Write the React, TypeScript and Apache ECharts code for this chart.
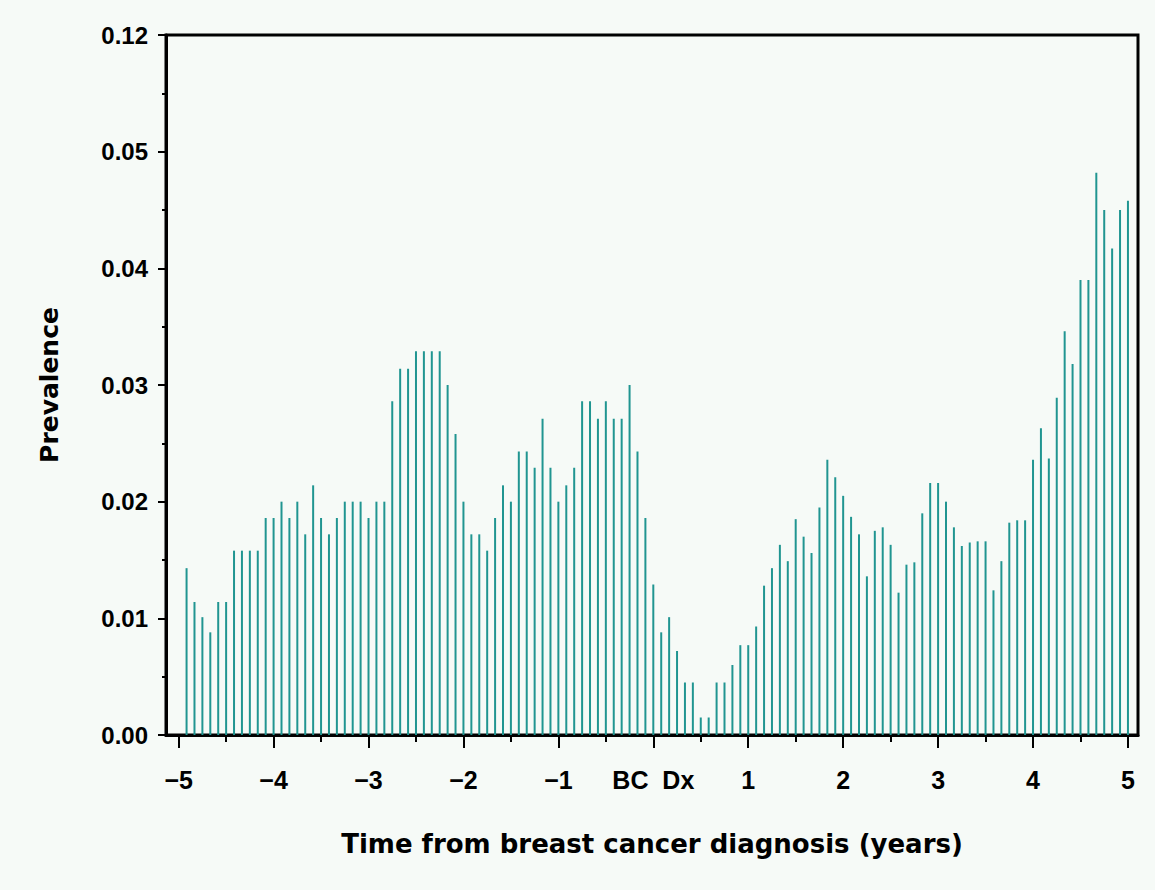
import React, { useEffect, useRef } from "react";
import * as echarts from "echarts";

// Monthly prevalence, months -59 .. 60 relative to breast cancer diagnosis
const prevalence: number[] = [
  // -59 .. -48
  0.0143, 0.0114, 0.0101, 0.0088, 0.0114, 0.0114, 0.0158, 0.0158, 0.0158, 0.0158, 0.0186, 0.0186,
  // -47 .. -36
  0.0200, 0.0186, 0.0200, 0.0172, 0.0214, 0.0186, 0.0172, 0.0186, 0.0200, 0.0200, 0.0200, 0.0186,
  // -35 .. -24
  0.0200, 0.0200, 0.0286, 0.0314, 0.0314, 0.0329, 0.0329, 0.0329, 0.0329, 0.0300, 0.0258, 0.0200,
  // -23 .. -12
  0.0172, 0.0172, 0.0158, 0.0186, 0.0214, 0.0200, 0.0243, 0.0243, 0.0229, 0.0271, 0.0229, 0.0200,
  // -11 .. 0
  0.0214, 0.0229, 0.0286, 0.0286, 0.0271, 0.0286, 0.0271, 0.0271, 0.0300, 0.0243, 0.0186, 0.0129,
  // 1 .. 12
  0.0088, 0.0101, 0.0072, 0.0045, 0.0045, 0.0015, 0.0015, 0.0045, 0.0045, 0.0060, 0.0077, 0.0077,
  // 13 .. 24
  0.0093, 0.0128, 0.0143, 0.0163, 0.0149, 0.0185, 0.0170, 0.0156, 0.0195, 0.0236, 0.0221, 0.0205,
  // 25 .. 36
  0.0187, 0.0172, 0.0136, 0.0175, 0.0178, 0.0163, 0.0122, 0.0146, 0.0148, 0.0190, 0.0216, 0.0216,
  // 37 .. 48
  0.0200, 0.0178, 0.0162, 0.0165, 0.0166, 0.0166, 0.0124, 0.0149, 0.0182, 0.0184, 0.0184, 0.0236,
  // 49 .. 60
  0.0263, 0.0237, 0.0289, 0.0346, 0.0318, 0.0390, 0.0390, 0.0482, 0.0450, 0.0417, 0.0450, 0.0458,
];
const firstMonth = -59;
const months: number[] = prevalence.map((_, i) => firstMonth + i);

// Year ticks (in months) and their labels
const majorTickMonths = [-60, -48, -36, -24, -12, 0, 12, 24, 36, 48, 60];
const majorTickLabels = ["\u22125", "\u22124", "\u22123", "\u22122", "\u22121", "BC  Dx", "1", "2", "3", "4", "5"];
const minorTickMonths = [-54, -42, -30, -18, -6, 6, 18, 30, 42, 54];

const yTicks = [0, 0.01, 0.02, 0.03, 0.04, 0.05, 0.06];
const yTickLabels = ["0.00", "0.01", "0.02", "0.03", "0.04", "0.05", "0.12"];

const BG = "#F6FAF7";
const NEEDLE = "#209591";
const TICK_FONT = "Liberation Sans";
const TITLE_FONT = "DejaVu Sans";

export default function App() {
  const ref = useRef<HTMLDivElement>(null);
  useEffect(() => {
    if (!ref.current) return;
    const chart = echarts.init(ref.current, null, { renderer: "svg" });
    const xMin = -61.6;
    const xMax = 61.27;
    const labelFor = (v: number) => {
      const i = majorTickMonths.findIndex((m) => Math.abs(m - v) < 1e-6);
      return i >= 0 ? majorTickLabels[i] : "";
    };
    const yLabelFor = (v: number) => {
      const i = yTicks.findIndex((t) => Math.abs(t - v) < 1e-9);
      return i >= 0 ? yTickLabels[i] : "";
    };
    chart.setOption({
      animation: false,
      backgroundColor: BG,
      grid: {
        left: 166,
        right: 17,
        top: 35,
        bottom: 155,
        show: true,
        borderColor: "#000",
        borderWidth: 3,
        backgroundColor: "transparent",
      },
      xAxis: [
        {
          type: "value",
          min: xMin,
          max: xMax,
          position: "bottom",
          name: "Time from breast cancer diagnosis (years)",
          nameLocation: "middle",
          nameGap: 96,
          nameTextStyle: { fontFamily: TITLE_FONT, fontWeight: "bold", fontSize: 26, color: "#000" },
          axisLine: { show: true, onZero: false, lineStyle: { color: "#000", width: 3 } },
          axisTick: { show: true, length: 13, lineStyle: { color: "#000", width: 2 }, customValues: majorTickMonths },
          axisLabel: {
            show: true,
            customValues: majorTickMonths,
            formatter: (v: number) => labelFor(v),
            margin: 32,
            fontFamily: TICK_FONT,
            fontWeight: "bold",
            fontSize: 25,
            color: "#000",
          },
          splitLine: { show: false },
        },
        {
          type: "value",
          min: xMin,
          max: xMax,
          position: "bottom",
          axisLine: { show: false, onZero: false },
          axisTick: { show: true, length: 7, lineStyle: { color: "#000", width: 2 }, customValues: minorTickMonths },
          axisLabel: { show: false },
          splitLine: { show: false },
        },
      ],
      yAxis: {
        type: "value",
        min: 0,
        max: 0.06,
        interval: 0.01,
        position: "left",
        name: "Prevalence",
        nameLocation: "middle",
        nameGap: 104,
        nameTextStyle: { fontFamily: TITLE_FONT, fontWeight: "bold", fontSize: 25, color: "#000" },
        axisLine: { show: true, onZero: false, lineStyle: { color: "#000", width: 3 } },
        axisTick: { show: true, length: 8, lineStyle: { color: "#000", width: 2 } },
        minorTick: { show: true, splitNumber: 2, length: 4, lineStyle: { color: "#000", width: 2 } },
        axisLabel: {
          formatter: (v: number) => yLabelFor(v),
          margin: 18,
          fontFamily: TICK_FONT,
          fontWeight: "bold",
          fontSize: 24,
          color: "#000",
        },
        splitLine: { show: false },
      },
      series: [
        {
          type: "bar",
          xAxisIndex: 0,
          barWidth: 2,
          itemStyle: { color: NEEDLE },
          data: months.map((m, i) => [m, prevalence[i]]),
        },
      ],
    });
    return () => chart.dispose();
  }, []);
  return (
    <div
      ref={ref}
      style={{ position: "absolute", left: 0, top: 0, width: 1155, height: 890, background: BG }}
    />
  );
}
